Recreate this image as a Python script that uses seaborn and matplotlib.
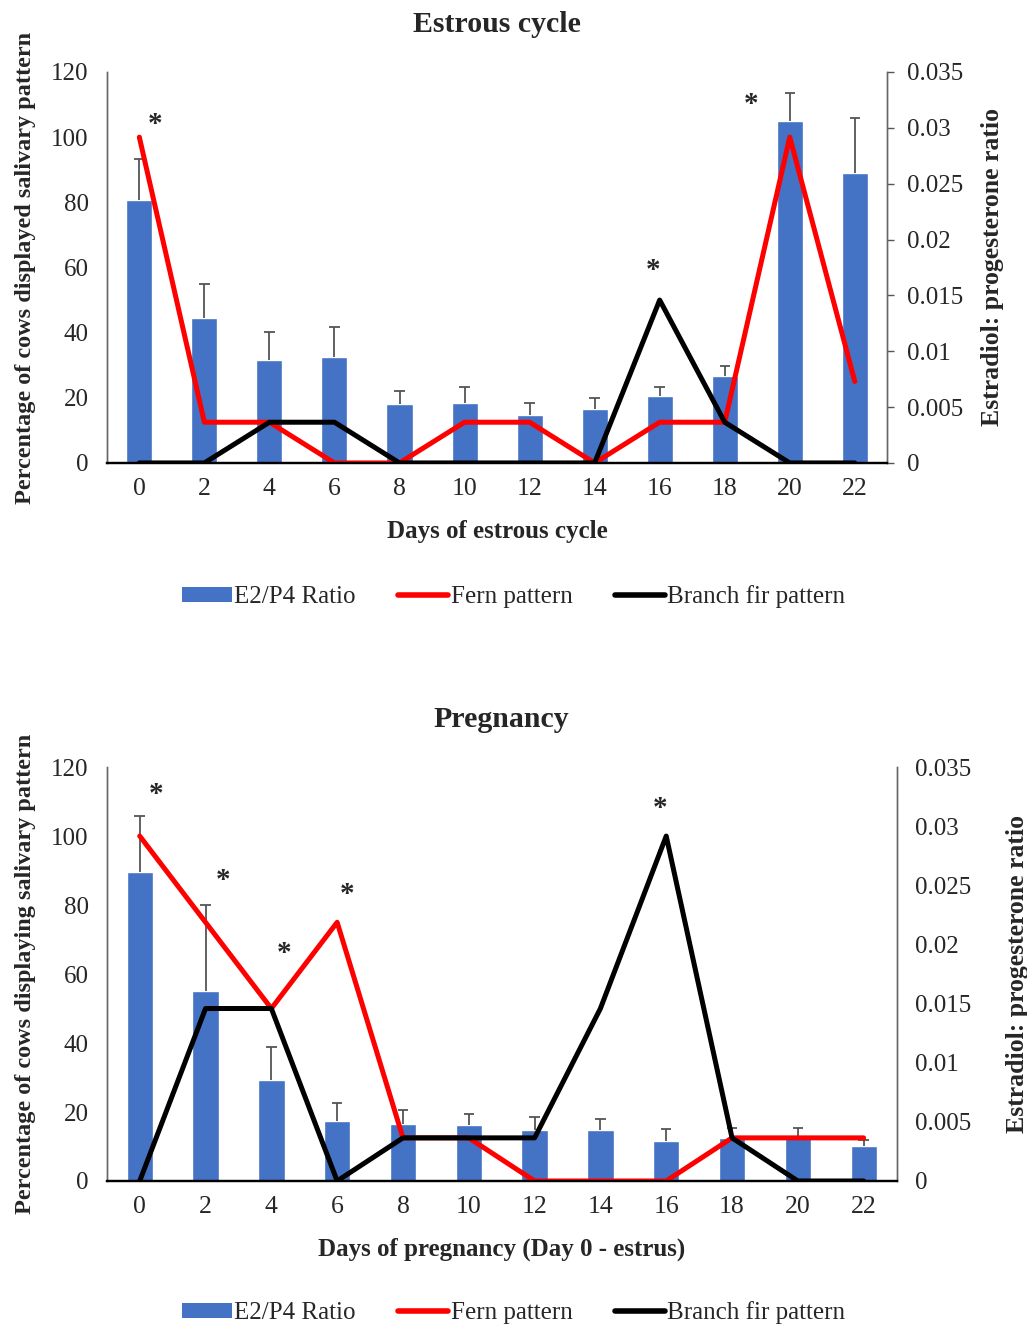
#!/usr/bin/env python3
"""
Salivary crystallization patterns vs E2/P4 ratio
Estrous cycle and pregnancy panels
"""

import matplotlib
matplotlib.use('Agg')
import matplotlib.pyplot as plt
import seaborn as sns
import numpy as np
from matplotlib.lines import Line2D
from matplotlib.patches import Patch

days = ['0', '2', '4', '6', '8', '10', '12', '14', '16', '18', '20', '22']

# Estrous cycle
cycle_ratio = [0.0235, 0.0130, 0.0092, 0.0095, 0.0053, 0.0054,
               0.0043, 0.0048, 0.0060, 0.0078, 0.0306, 0.0260]
cycle_err = [0.0037, 0.0030, 0.0025, 0.0027, 0.0011, 0.0014,
             0.0011, 0.0010, 0.0008, 0.0009, 0.0025, 0.0049]
cycle_fern = [100, 12.5, 12.5, 0, 0, 12.5, 12.5, 0, 12.5, 12.5, 100, 25]
cycle_branch = [0, 0, 12.5, 12.5, 0, 0, 0, 0, 50, 12.5, 0, 0]
cycle_stars_x = [0.25, 7.9, 9.4]
cycle_stars_y = [104, 59, 110]

# Pregnancy
preg_ratio = [0.0261, 0.0161, 0.0085, 0.0051, 0.0048, 0.0047,
              0.0043, 0.0043, 0.0034, 0.0036, 0.0038, 0.0030]
preg_err = [0.0048, 0.0072, 0.0028, 0.0015, 0.0012, 0.0010,
            0.0011, 0.0009, 0.0010, 0.0009, 0.0007, 0.0005]
preg_fern = [100, 75, 50, 75, 12.5, 12.5, 0, 0, 0, 12.5, 12.5, 12.5]
preg_branch = [0, 50, 50, 0, 12.5, 12.5, 12.5, 50, 100, 12.5, 0, 0]
preg_stars_x = [0.25, 1.27, 2.2, 3.15, 7.9]
preg_stars_y = [112, 87, 66, 83, 108]

BLUE = '#4472C4'
RED = '#FF0000'
ERR = '#555555'

sns.set_style('white')
plt.rcParams['font.family'] = ['Liberation Serif', 'DejaVu Serif']


def draw_panel(fig, rect, title, xlabel, ylabel, ratio, err, fern, branch,
               stars_x, stars_y, right_ticks=True, rlabelpad=8):
    ax = fig.add_axes(rect)
    axr = ax.twinx()
    pos = np.arange(len(days))
    ratio = np.asarray(ratio)
    top = ratio + np.asarray(err)

    # bars on the right (ratio) axis, upper error bars only
    sns.barplot(x=days, y=ratio, order=days, ax=axr, color=BLUE,
                saturation=1, width=0.4, errorbar=None)
    axr.vlines(pos, ratio, top, color=ERR, lw=1.3)
    axr.hlines(top, pos - 0.08, pos + 0.08, color=ERR, lw=1.3)

    # pattern lines on the left (percentage) axis, drawn above bars
    ax.set_zorder(axr.get_zorder() + 1)
    ax.patch.set_visible(False)
    sns.lineplot(x=pos, y=fern, ax=ax, color=RED, lw=3.6)
    sns.lineplot(x=pos, y=branch, ax=ax, color='black', lw=3.6)
    for sx, sy in zip(stars_x, stars_y):
        ax.text(sx, sy, '*', ha='center', va='center', fontsize=21,
                fontweight='bold')

    ax.set_xlim(-0.5, len(days) - 0.5)
    axr.set_xlim(-0.5, len(days) - 0.5)
    ax.set_ylim(0, 120)
    ax.set_yticks(range(0, 121, 20))
    axr.set_ylim(0, 0.035)
    rt = [0, 0.005, 0.01, 0.015, 0.02, 0.025, 0.03, 0.035]
    axr.set_yticks(rt)
    axr.set_yticklabels(['0', '0.005', '0.01', '0.015', '0.02', '0.025',
                         '0.03', '0.035'])
    ax.set_xticks(pos)
    ax.set_xticklabels(days)

    ax.tick_params(axis='y', length=0, pad=13, labelsize=18)
    ax.tick_params(axis='x', length=0, pad=11, labelsize=18.5)
    axr.tick_params(axis='y', length=5 if right_ticks else 0, width=1,
                    color=ERR, pad=9 if right_ticks else 13, labelsize=18)
    axr.set_xlabel('')

    for a in (ax, axr):
        a.spines['top'].set_visible(False)
        a.spines['left'].set_color('#666666')
        a.spines['right'].set_color('#666666')
        a.spines['left'].set_linewidth(1)
        a.spines['right'].set_linewidth(1)
        a.spines['bottom'].set_color('black')
        a.spines['bottom'].set_linewidth(1.6)

    ax.set_title(title, fontsize=21.5, fontweight='bold', pad=29)
    ax.set_xlabel(xlabel, fontsize=18, fontweight='bold', labelpad=14)
    ax.set_ylabel(ylabel, fontsize=17.5, fontweight='bold', labelpad=11)
    axr.set_ylabel('Estradiol: progesterone ratio', fontsize=18.5,
                   fontweight='bold', labelpad=rlabelpad)
    return ax


fig = plt.figure(figsize=(10.27, 13.28), dpi=100)

draw_panel(fig, [0.104, 0.6514, 0.760, 0.2944], 'Estrous cycle',
           'Days of estrous cycle',
           'Percentage of cows displayed salivary pattern',
           cycle_ratio, cycle_err, cycle_fern, cycle_branch,
           cycle_stars_x, cycle_stars_y, right_ticks=True, rlabelpad=13)

draw_panel(fig, [0.104, 0.1107, 0.769, 0.3117], 'Pregnancy',
           'Days of pregnancy (Day 0 - estrus)',
           'Percentage of cows displaying salivary pattern',
           preg_ratio, preg_err, preg_fern, preg_branch,
           preg_stars_x, preg_stars_y, right_ticks=False, rlabelpad=25)

handles = [Patch(facecolor=BLUE, edgecolor='none'),
           Line2D([0], [0], color=RED, lw=4),
           Line2D([0], [0], color='black', lw=4)]
labels = ['E2/P4 Ratio', 'Fern pattern', 'Branch fir pattern']
for ypos in (0.5505, 0.0113):
    fig.legend(handles, labels, loc='center', bbox_to_anchor=(0.5, ypos),
               ncol=3, frameon=False, fontsize=18, handlelength=2.0,
               handleheight=0.55, handletextpad=0.1, columnspacing=1.7)

fig.savefig('out.png', dpi=100)
